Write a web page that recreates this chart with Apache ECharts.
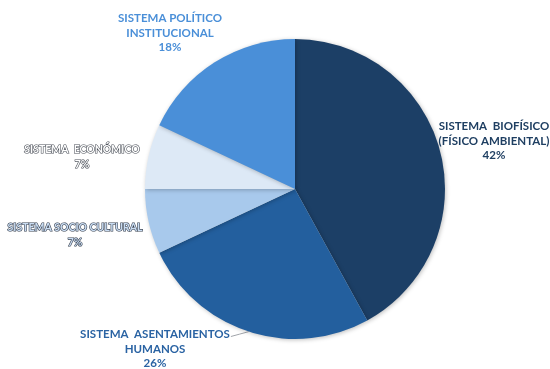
<!DOCTYPE html>
<html>
<head>
<meta charset="utf-8">
<script src="https://cdn.jsdelivr.net/npm/echarts@6/dist/echarts.min.js"></script>
<style>html,body{margin:0;padding:0;background:#fff}#c{width:550px;height:369px}</style>
</head>
<body>
<div id="c"></div>
<script>
const categories = ['SISTEMA  BIOFÍSICO\n(FÍSICO AMBIENTAL)', 'SISTEMA  ASENTAMIENTOS\nHUMANOS', 'SISTEMA SOCIO CULTURAL', 'SISTEMA  ECONÓMICO', 'SISTEMA POLÍTICO\nINSTITUCIONAL'];
const values = [42, 26, 7, 7, 18];
const colors = ['#1c3f66', '#235f9e', '#a8c9ec', '#dde9f6', '#4a8fd8'];
const labelColors = ['#1f3f62', '#2a63a3', '#c9dcf2', '#ffffff', '#4a8fd8'];
const labelBorders = [null, null, '#3a4250', '#4a4f58', null];
const labelSizes = [11.5, 11.5, 10.5, 10.5, 11.5];
const labelPos = [[494, 141], [155, 349], [75, 235], [82, 157], [170, 33]];
const LINE_H = 14.5;

const chart = echarts.init(document.getElementById('c'));
chart.setOption({
  animation: false,
  series: [{
    type: 'pie',
    center: [295, 189],
    radius: 150,
    startAngle: 90,
    clockwise: true,
    data: categories.map((n, i) => ({
      name: n,
      value: values[i],
      itemStyle: { color: colors[i] },
      label: {
        position: i === 1 ? 'outside' : 'inside',
        color: labelColors[i],
        fontSize: labelSizes[i],
        textBorderColor: labelBorders[i] || 'transparent',
        textBorderWidth: labelBorders[i] ? 1.2 : 0
      },
      labelLine: { show: i === 1, length: 5, length2: 5, lineStyle: { color: '#a0a4aa', width: 1 } }
    })),
    itemStyle: { shadowBlur: 4, shadowColor: 'rgba(0,0,0,0.25)', shadowOffsetX: 1, shadowOffsetY: 1 },
    label: {
      formatter: '{b}\n{c}%',
      fontFamily: 'Lato, "Open Sans", sans-serif',
      fontWeight: 'bold',
      lineHeight: LINE_H,
      align: 'center',
      overflow: 'none'
    },
    labelLayout: function (p) {
      const pos = labelPos[p.dataIndex];
      const out = { x: pos[0], y: pos[1], align: 'center', verticalAlign: 'middle' };
      if (p.labelLinePoints && p.dataIndex === 1) {
        const anchor = p.labelLinePoints[0];
        const right = pos[0] + p.labelRect.width / 2 + 1;
        const firstLineY = pos[1] - p.labelRect.height / 2 + LINE_H / 2 + 2;
        out.labelLinePoints = [anchor, [(anchor[0] + right) / 2, (anchor[1] + firstLineY) / 2], [right, firstLineY]];
      }
      return out;
    }
  }]
});
</script>
</body>
</html>
